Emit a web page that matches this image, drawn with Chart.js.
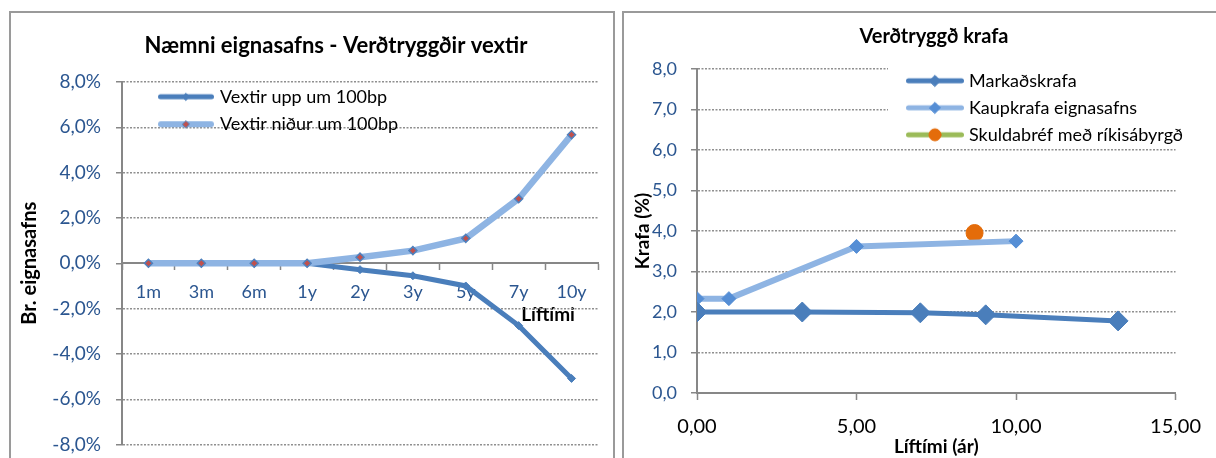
<!DOCTYPE html>
<html>
<head>
<meta charset="utf-8">
<script src="https://cdn.jsdelivr.net/npm/chart.js@4.4.1/dist/chart.umd.min.js"></script>
<style>
  html, body { margin: 0; padding: 0; background: #fff; }
  body { width: 1216px; height: 458px; overflow: hidden; position: relative; }
  .frame { position: absolute; border: 2px solid #9a9a9a; box-sizing: border-box; }
  canvas { position: absolute; top: 0; }
</style>
</head>
<body>
<div class="frame" style="left:9px; top:11px; width:606px; height:470px;"></div>
<div class="frame" style="left:622px; top:11px; width:620px; height:470px;"></div>
<canvas id="sensChart" width="616" height="471" style="left:0"></canvas>
<canvas id="yieldChart" width="600" height="458" style="left:616px"></canvas>
<script>
// --- Næmni eignasafns (vinstra graf) ---
const maturities = ['1m', '3m', '6m', '1y', '2y', '3y', '5y', '7y', '10y'];
const ratesUp = [0, 0, 0, 0, -0.28, -0.55, -1.0, -2.75, -5.08];
const ratesDown = [0, 0, 0, 0, 0.27, 0.56, 1.1, 2.85, 5.67];

// --- Verðtryggð krafa (hægra graf) ---
const marketX = [0, 3.3, 7.0, 9.05, 13.2];
const marketY = [2.0, 2.0, 1.98, 1.93, 1.78];
const portfolioX = [0, 1, 5, 10];
const portfolioY = [2.33, 2.33, 3.62, 3.75];
const govX = [8.7];
const govY = [3.95];

const DARK = '#4A7EBB';
const LIGHT = '#8EB4E3';
const MID = '#558ED5';
const ORANGE = '#E46C0A';
const GREEN = '#9BBB59';
const RED = '#C0504D';
const AXIS = '#878787';
const GRID = '#8f8f8f';
const TICK_BLUE = '#2B5690';

Chart.defaults.font.family = 'Lato';

const comma = (v, d) => v.toFixed(d).replace('.', ',');

// legend sample: line with marker in the middle
function legendSample(w, lineColor, lineWidth, marker) {
  const c = document.createElement('canvas');
  c.width = w;
  c.height = 18;
  const g = c.getContext('2d');
  g.strokeStyle = lineColor;
  g.lineWidth = lineWidth;
  g.lineCap = 'round';
  g.beginPath();
  g.moveTo(lineWidth / 2, 9);
  g.lineTo(w - lineWidth / 2, 9);
  g.stroke();
  g.fillStyle = marker.fill;
  g.strokeStyle = marker.stroke || marker.fill;
  g.lineWidth = 1;
  Chart.helpers.drawPoint(g, { pointStyle: marker.style, radius: marker.r, borderWidth: 1, rotation: 0 }, w / 2, 9);
  return c;
}

// puts the legend where Excel had it and centres the title
const placeBlocks = {
  id: 'placeBlocks',
  afterLayout(chart, args, opts) {
    const lg = chart.legend;
    if (lg && opts.legendX !== undefined) {
      const w = lg.width, h = lg.height;
      lg.left = opts.legendX; lg.right = opts.legendX + w;
      lg.top = opts.legendY; lg.bottom = opts.legendY + h;
    }
    const t = chart.titleBlock;
    if (t && opts.titleCenter !== undefined) {
      t.left = opts.titleCenter - 300;
      t.right = opts.titleCenter + 300;
    }
  },
  beforeDatasetsDraw(chart, args, opts) {
    if (!opts.backdrop) return;
    const b = opts.backdrop;
    const ctx = chart.ctx;
    ctx.save();
    ctx.fillStyle = '#fff';
    ctx.fillRect(b.x, b.y, b.w, b.h);
    ctx.restore();
    chart.legend.draw();
  }
};

function legendLabels(samples, size, padding) {
  return {
    usePointStyle: true,
    pointStyleWidth: 50,
    padding: padding,
    color: '#000',
    font: { size: size },
    generateLabels(chart) {
      const items = Chart.defaults.plugins.legend.labels.generateLabels(chart);
      items.forEach(it => { it.pointStyle = samples[it.datasetIndex]; });
      return items;
    },
    sort: (a, b) => a.datasetIndex - b.datasetIndex
  };
}

// ---------- vinstra graf ----------
const sensSamples = [
  legendSample(56, DARK, 5, { style: 'rectRot', r: 3.5, fill: DARK }),
  legendSample(56, LIGHT, 6, { style: 'rectRot', r: 3.5, fill: RED, stroke: '#4F81BD' })
];

new Chart(document.getElementById('sensChart'), {
  type: 'line',
  data: {
    labels: maturities,
    datasets: [
      {
        label: 'Vextir upp um 100bp',
        data: ratesUp,
        borderColor: DARK,
        backgroundColor: DARK,
        borderWidth: 5,
        pointStyle: 'rectRot',
        pointRadius: 4,
        pointBackgroundColor: DARK,
        pointBorderColor: DARK,
        pointBorderWidth: 1,
        order: 1
      },
      {
        label: 'Vextir niður um 100bp',
        data: ratesDown,
        borderColor: LIGHT,
        backgroundColor: LIGHT,
        borderWidth: 6.5,
        pointStyle: 'rectRot',
        pointRadius: 4,
        pointBackgroundColor: RED,
        pointBorderColor: '#4F81BD',
        pointBorderWidth: 1.5,
        order: 0
      }
    ]
  },
  options: {
    responsive: false,
    animation: false,
    devicePixelRatio: 1,
    layout: { padding: { left: 0, right: 18, top: 0, bottom: 0 } },
    plugins: {
      title: {
        display: true,
        text: 'Næmni eignasafns - Verðtryggðir vextir',
        color: '#000',
        font: { size: 22, weight: 'bold' },
        padding: { top: 33.1, bottom: 22.5 }
      },
      legend: {
        position: 'chartArea',
        align: 'start',
        labels: legendLabels(sensSamples, 18, 9.5)
      },
      tooltip: { enabled: false },
      placeBlocks: { legendX: 151.5, legendY: 78.2, titleCenter: 336 }
    },
    scales: {
      x: {
        position: { y: 0 },
        offset: true,
        grid: { offset: true, drawOnChartArea: false, tickLength: 6, tickColor: AXIS, tickWidth: 1.5 },
        border: { color: AXIS, width: 2 },
        ticks: { color: TICK_BLUE, font: { size: 18 }, padding: 12, maxRotation: 0, autoSkip: false },
        title: {
          display: true,
          text: 'Líftími\u00a0\u00a0\u00a0\u00a0\u00a0',
          align: 'end',
          color: '#000',
          font: { size: 19, weight: 'bold' },
          padding: { top: -11.5, bottom: 0 }
        }
      },
      y: {
        min: -8,
        max: 8,
        ticks: {
          stepSize: 2,
          callback: v => comma(v, 1) + '%',
          color: TICK_BLUE,
          font: { size: 19 },
          padding: 15
        },
        grid: {
          color: c => (c.tick && c.tick.value === 0) ? 'rgba(0,0,0,0)' : GRID,
          lineWidth: 1.5,
          tickColor: AXIS,
          tickLength: 6,
          tickWidth: 1.5
        },
        border: { color: AXIS, width: 2, dash: [2, 1.5] },
        title: {
          display: true,
          text: 'Br. eignasafns',
          color: '#000',
          font: { size: 20, weight: 'bold' },
          padding: { top: 18, bottom: 0 }
        },
        afterFit: s => { s.width = 122; }
      }
    }
  },
  plugins: [placeBlocks]
});

// ---------- hægra graf ----------
const yieldSamples = [
  legendSample(58, DARK, 5, { style: 'rectRot', r: 5.5, fill: DARK }),
  legendSample(58, LIGHT, 5, { style: 'rectRot', r: 5.5, fill: MID }),
  legendSample(58, GREEN, 5, { style: 'circle', r: 6, fill: ORANGE })
];

new Chart(document.getElementById('yieldChart'), {
  type: 'line',
  data: {
    datasets: [
      {
        label: 'Markaðskrafa',
        data: marketX.map((x, i) => ({ x: x, y: marketY[i] })),
        borderColor: DARK,
        backgroundColor: DARK,
        borderWidth: 5,
        pointStyle: 'rectRot',
        pointRadius: 10,
        pointBackgroundColor: DARK,
        pointBorderColor: DARK,
        pointBorderWidth: 1
      },
      {
        label: 'Kaupkrafa eignasafns',
        data: portfolioX.map((x, i) => ({ x: x, y: portfolioY[i] })),
        borderColor: LIGHT,
        backgroundColor: LIGHT,
        borderWidth: 6,
        pointStyle: 'rectRot',
        pointRadius: 7,
        pointBackgroundColor: MID,
        pointBorderColor: MID,
        pointBorderWidth: 1
      },
      {
        label: 'Skuldabréf með ríkisábyrgð',
        data: govX.map((x, i) => ({ x: x, y: govY[i] })),
        borderColor: GREEN,
        backgroundColor: GREEN,
        showLine: false,
        pointStyle: 'circle',
        pointRadius: 8.5,
        pointBackgroundColor: ORANGE,
        pointBorderColor: ORANGE,
        pointBorderWidth: 1
      }
    ]
  },
  options: {
    responsive: false,
    animation: false,
    devicePixelRatio: 1,
    layout: { padding: { left: 0, right: 30, top: 0, bottom: 0 } },
    plugins: {
      title: {
        display: true,
        text: 'Verðtryggð krafa',
        color: '#000',
        font: { size: 20, weight: 'bold' },
        padding: { top: 25, bottom: 20 }
      },
      legend: {
        position: 'chartArea',
        align: 'start',
        labels: legendLabels(yieldSamples, 18, 9)
      },
      tooltip: { enabled: false },
      placeBlocks: {
        legendX: 285,
        legendY: 62.8,
        titleCenter: 318,
        backdrop: { x: 272, y: 64, w: 300, h: 82 }
      }
    },
    scales: {
      x: {
        type: 'linear',
        min: 0,
        max: 15,
        ticks: {
          stepSize: 5,
          callback: v => comma(v, 2),
          color: '#000',
          font: { size: 20 },
          padding: 15
        },
        grid: { drawOnChartArea: false, tickLength: 7, tickColor: AXIS, tickWidth: 1.5 },
        border: { color: AXIS, width: 2 },
        title: {
          display: true,
          text: 'Líftími (ár)',
          color: '#000',
          font: { size: 19, weight: 'bold' },
          padding: { top: 0, bottom: 0 }
        },
        afterFit: s => { s.height = 65; }
      },
      y: {
        min: 0,
        max: 8,
        ticks: {
          stepSize: 1,
          callback: v => comma(v, 1),
          color: TICK_BLUE,
          font: { size: 18 },
          padding: 14
        },
        grid: {
          color: c => (c.tick && c.tick.value === 0) ? 'rgba(0,0,0,0)' : GRID,
          lineWidth: 1.5,
          tickColor: AXIS,
          tickLength: 6,
          tickWidth: 1.5
        },
        border: { color: AXIS, width: 2, dash: [2, 1.5] },
        title: {
          display: true,
          text: 'Krafa (%)',
          color: '#000',
          font: { size: 19, weight: 'bold' },
          padding: { top: 15.6, bottom: 0 }
        },
        afterFit: s => { s.width = 81; }
      }
    }
  },
  plugins: [placeBlocks]
});
</script>
</body>
</html>
